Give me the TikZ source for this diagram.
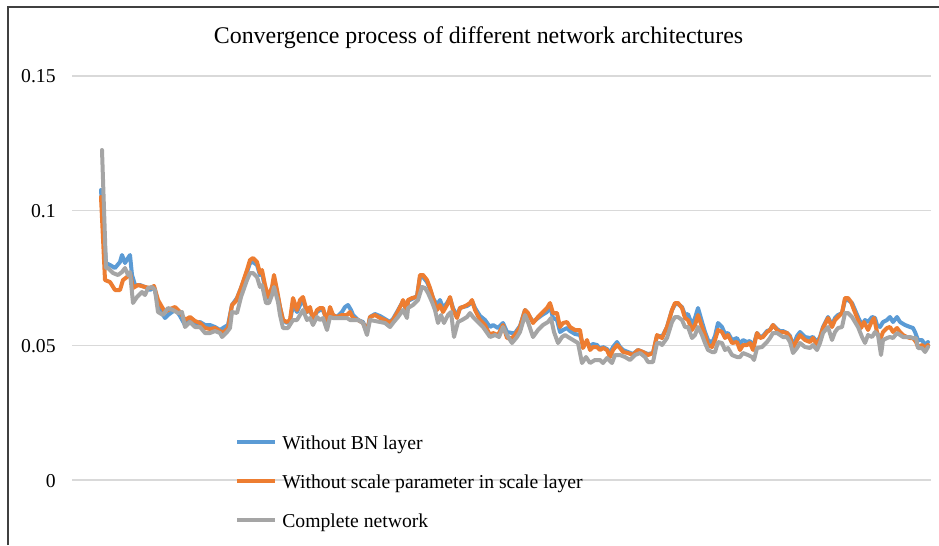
\documentclass[tikz,border=0pt]{standalone}
\usepackage{fontspec}
\setmainfont{Liberation Serif}

\definecolor{bnblue}{HTML}{5B9BD5}
\definecolor{scaleorange}{HTML}{ED7D31}
\definecolor{fullgray}{HTML}{A5A5A5}
\definecolor{gridgray}{HTML}{D9D9D9}
\definecolor{framegray}{HTML}{404040}

\begin{document}
\begin{tikzpicture}[
                x=0.02cm, y=-0.02cm,
                % Estilos de la grafica
                grid line/.style={
                    draw=gridgray,
                    line width=0.03cm
                },
                tick label/.style={
                    font=\fontsize{11.2}{13}\selectfont,
                    anchor=base east,
                    inner sep=0pt
                },
                title text/.style={
                    font=\fontsize{13.6}{16}\selectfont,
                    anchor=base,
                    inner sep=0pt
                },
                legend text/.style={
                    font=\fontsize{11.2}{13}\selectfont,
                    anchor=base west,
                    inner sep=0pt
                },
                curve/.style={
                    line width=0.08cm,
                    line join=round,
                    line cap=round
                },
                bn curve/.style={curve, draw=bnblue},
                scale curve/.style={curve, draw=scaleorange},
                full curve/.style={curve, draw=fullgray}
            ]

                % --- AREA DE LA FIGURA ---
                \useasboundingbox (0,0) rectangle (939,545);
                \fill[white] (0,0) rectangle (939,545);
                \draw[framegray, line width=0.03cm] (8,545) -- (8,7) -- (939,7);

                % --- TITULO ---
                \node[title text] (title) at (478.5,43) {Convergence process of different network architectures};

                % --- EJE Y Y LINEAS DE REJILLA ---
                \def\xLeft{72}
                \def\xRight{931}
                \def\yZero{480}
                \def\yUnit{2694}
                \foreach \val/\lab/\id in {0/0/a, 0.05/0.05/b, 0.1/0.1/c, 0.15/0.15/d} {
                    \draw[grid line] (\xLeft, \yZero - \val*\yUnit) -- (\xRight, \yZero - \val*\yUnit);
                    \node[tick label] (tick\id) at (56, \yZero - \val*\yUnit + 7) {\lab};
                }

                % --- CURVAS DE CONVERGENCIA ---
                % Sin capa BN
                \draw[bn curve] plot coordinates {
                    (101,190) (106,263) (110,265) (115,268) (120,262) (122,255) (125,263) (128,258) (130,255) (132,275)
                    (135,285) (140,285) (145,287) (150,290) (154,287) (158,303) (162,313) (165,318) (168,315) (172,312)
                    (176,310) (180,316) (185,325) (190,320) (195,324) (200,322) (205,325) (210,325) (215,327) (220,330)
                    (223,328) (228,325) (232,305) (237,298) (241,288) (247,272) (250,263) (253,262) (257,265) (260,275)
                    (262,273) (265,288) (268,298) (272,290) (274,280) (277,292) (280,307) (283,320) (287,323) (290,321)
                    (293,305) (297,312) (300,305) (303,300) (307,312) (310,310) (313,318) (317,312) (320,310) (323,310)
                    (327,320) (330,310) (333,315) (337,317) (342,312) (345,307) (348,305) (351,310) (353,315) (358,320)
                    (363,322) (367,332) (370,317) (375,314) (380,316) (385,319) (390,322) (393,319) (397,312) (402,303)
                    (403,301) (407,312) (408,301) (412,299) (417,296) (420,277) (423,277) (427,282) (430,289) (433,298)
                    (437,305) (440,300) (443,308) (447,303) (450,298) (453,308) (457,316) (460,308) (463,307) (467,306)
                    (470,304) (472,301) (475,308) (480,316) (485,320) (490,327) (493,325) (498,328) (503,323) (507,332)
                    (512,333) (515,333) (520,326) (525,310) (528,314) (533,322) (538,318) (542,315) (547,312) (550,306)
                    (553,318) (557,320) (560,332) (563,330) (567,328) (570,331) (575,334) (580,335) (583,345) (587,343)
                    (590,346) (593,344) (597,345) (600,349) (603,347) (607,349) (610,353) (613,347) (617,342) (620,347)
                    (623,350) (628,352) (633,354) (638,350) (643,352) (648,354) (653,353) (657,336) (660,336) (662,337)
                    (667,327) (672,310) (675,304) (678,304) (682,307) (685,315) (688,314) (692,325) (695,318) (698,308)
                    (702,322) (705,332) (708,340) (712,343) (715,336) (718,323) (722,327) (725,334) (728,333) (732,340)
                    (737,338) (740,344) (743,340) (747,342) (750,341) (753,347) (757,333) (760,337) (763,336) (767,331)
                    (770,330) (773,325) (777,329) (780,331) (783,331) (787,333) (790,336) (793,346) (797,336) (800,332)
                    (805,337) (810,338) (813,337) (817,342) (820,337) (823,327) (828,317) (832,325) (835,318) (838,315)
                    (842,313) (845,300) (848,300) (852,303) (855,310) (858,317) (862,325) (865,320) (868,322) (872,317)
                    (875,318) (877,325) (880,327) (883,322) (887,320) (890,317) (893,322) (897,317) (900,322) (905,325)
                    (910,327) (913,328) (915,332) (918,340) (922,340) (925,345) (928,342)
                };

                % Sin parametro de escala
                \draw[scale curve] plot coordinates {
                    (101,197) (105,280) (110,282) (115,290) (120,290) (123,280) (127,277) (130,273) (133,288) (138,285)
                    (145,287) (150,288) (154,286) (158,300) (162,307) (165,312) (170,309) (175,307) (180,312) (185,320)
                    (190,317) (195,321) (200,323) (205,328) (210,329) (215,328) (220,331) (223,333) (228,328) (232,305)
                    (236,301) (241,288) (247,270) (250,260) (253,258) (257,262) (260,273) (262,270) (265,285) (268,297)
                    (272,287) (274,275) (277,290) (280,307) (283,320) (287,322) (290,320) (293,298) (297,310) (300,300)
                    (303,297) (307,312) (310,307) (313,320) (317,310) (320,308) (323,308) (327,323) (330,307) (333,315)
                    (337,317) (342,315) (347,315) (350,312) (353,318) (358,320) (363,323) (367,332) (370,317) (375,315)
                    (380,318) (385,320) (390,323) (393,320) (397,313) (402,303) (403,300) (407,313) (408,300) (412,298)
                    (417,297) (420,275) (423,275) (427,280) (430,288) (433,298) (437,310) (440,305) (443,312) (447,305)
                    (450,297) (453,310) (457,318) (460,308) (463,307) (467,305) (470,303) (472,300) (475,310) (480,320)
                    (485,325) (490,335) (493,333) (498,335) (503,325) (507,338) (512,338) (515,335) (520,327) (525,310)
                    (528,313) (533,323) (538,317) (542,313) (547,308) (550,303) (553,313) (557,313) (560,327) (563,323)
                    (567,322) (570,327) (575,330) (580,330) (583,348) (587,340) (590,350) (593,347) (597,347) (600,350)
                    (603,348) (607,350) (610,357) (613,350) (617,345) (620,348) (623,352) (628,353) (633,355) (638,350)
                    (643,352) (648,355) (653,353) (657,335) (660,337) (662,338) (667,327) (672,310) (675,303) (678,303)
                    (682,308) (685,318) (688,320) (692,330) (695,325) (698,315) (702,327) (705,335) (708,345) (712,347)
                    (715,340) (718,330) (722,332) (725,338) (728,335) (732,343) (737,342) (740,350) (743,345) (747,345)
                    (750,343) (753,350) (757,333) (760,338) (763,337) (767,332) (770,330) (773,325) (777,330) (780,332)
                    (783,332) (787,333) (790,337) (793,348) (797,340) (800,335) (805,340) (810,342) (813,338) (817,345)
                    (820,338) (823,328) (828,318) (832,327) (835,320) (838,317) (842,313) (845,298) (848,298) (851,302)
                    (854,310) (858,320) (861,328) (864,322) (868,330) (871,323) (874,318) (877,332) (880,340) (883,332)
                    (887,328) (890,327) (893,332) (897,328) (900,332) (903,335) (907,337) (910,338) (913,338) (916,342)
                    (918,347) (922,345) (925,348) (928,345)
                };

                % Red completa
                \draw[full curve] plot coordinates {
                    (102,150) (106,268) (108,268) (113,273) (118,275) (122,272) (125,268) (128,275) (130,272) (133,303)
                    (137,297) (142,292) (145,295) (148,288) (152,287) (155,290) (158,312) (163,315) (168,308) (173,310)
                    (178,313) (182,312) (185,327) (190,322) (195,327) (200,327) (205,333) (210,333) (215,331) (220,333)
                    (222,337) (227,332) (230,328) (232,312) (237,313) (241,297) (247,280) (250,273) (253,273) (257,277)
                    (260,287) (262,285) (266,303) (269,303) (272,295) (274,287) (278,302) (280,315) (283,328) (288,328)
                    (293,320) (297,320) (300,315) (303,310) (307,320) (310,318) (313,325) (317,317) (320,320) (323,318)
                    (327,330) (330,317) (333,318) (337,318) (342,318) (347,318) (350,320) (353,320) (358,320) (363,323)
                    (367,335) (370,320) (375,321) (380,322) (385,323) (390,327) (393,323) (398,317) (403,310) (407,318)
                    (408,308) (413,305) (418,300) (422,287) (425,288) (428,293) (432,302) (435,310) (438,323) (441,315)
                    (444,323) (448,315) (451,312) (454,337) (458,322) (462,320) (467,317) (470,313) (473,317) (478,322)
                    (483,327) (490,337) (495,335) (499,337) (503,327) (507,335) (512,343) (517,337) (520,332) (525,315)
                    (528,322) (533,337) (538,330) (543,325) (548,322) (551,318) (554,332) (558,343) (562,337) (565,335)
                    (568,337) (573,340) (578,343) (582,363) (586,357) (590,363) (595,360) (600,360) (603,363) (607,358)
                    (612,363) (615,355) (620,355) (625,357) (630,360) (635,355) (640,353) (645,357) (648,362) (653,362)
                    (657,343) (660,343) (662,345) (667,338) (672,322) (675,317) (678,317) (682,320) (685,327) (688,327)
                    (692,338) (695,335) (698,327) (702,335) (705,343) (708,350) (712,352) (715,352) (718,342) (722,343)
                    (725,350) (728,348) (732,355) (737,357) (740,357) (743,353) (748,355) (752,357) (754,360) (757,348)
                    (762,347) (767,342) (770,338) (773,333) (777,333) (780,335) (783,337) (787,337) (790,342) (793,353)
                    (797,348) (800,343) (805,347) (810,348) (813,345) (817,350) (820,343) (823,333) (828,327) (832,340)
                    (835,332) (838,328) (842,327) (845,313) (848,313) (852,317) (855,322) (858,327) (862,337) (865,343)
                    (868,335) (872,337) (875,332) (878,335) (881,355) (883,340) (887,338) (890,337) (893,338) (897,333)
                    (900,335) (903,337) (907,337) (910,337) (913,338) (916,338) (918,348) (922,348) (925,352) (928,347)
                };

                % --- LEYENDA ---
                \def\xLegLine{237}
                \def\xLegText{282}
                \foreach \yLeg/\sty/\txt/\id in {441.5/bn curve/Without BN layer/bn,
                                                480.5/scale curve/Without scale parameter in scale layer/scale,
                                                519.5/full curve/Complete network/full} {
                    \draw[\sty, line cap=butt] (\xLegLine, \yLeg) -- (\xLegLine + 38, \yLeg);
                    \node[legend text] (leg\id) at (\xLegText, \yLeg + 8) {\txt};
                }

            \end{tikzpicture}
\end{document}
